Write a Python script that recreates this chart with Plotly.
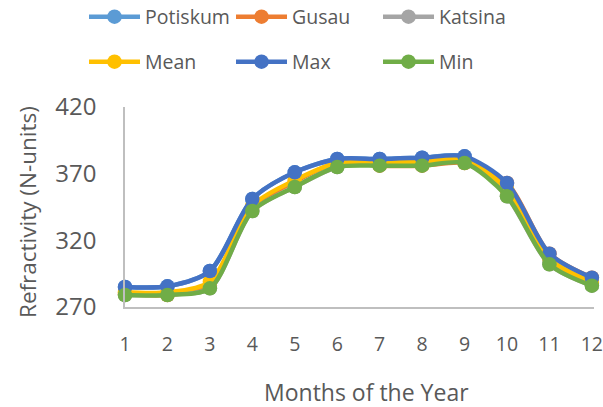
import plotly.graph_objects as go

months = [1, 2, 3, 4, 5, 6, 7, 8, 9, 10, 11, 12]
tick_labels = ["1", "2", "3", "4", "5", "6", "7", "8", "9", "10", "11", "12"]

potiskum = [285, 285.5, 297, 351, 371, 381, 381, 382, 383, 358, 305, 288]
gusau = [279.5, 279, 286, 345, 364, 378, 376, 376, 378, 363, 310, 292]
katsina = [279, 279.5, 284, 342, 360, 375, 378, 379, 381, 353, 302, 286]
mean = [281, 281, 289, 346, 365, 378, 378.5, 379, 380.5, 358, 306, 288.7]
maximum = [285, 285.5, 297, 351, 371, 381, 381, 382, 383, 363, 310, 292]
minimum = [279, 279, 284, 342, 360, 375, 376, 376, 378, 353, 302, 286]

series = [
    ("Potiskum", potiskum, "#5B9BD5", "legend"),
    ("Gusau", gusau, "#ED7D31", "legend"),
    ("Katsina", katsina, "#A5A5A5", "legend"),
    ("Mean", mean, "#FFC000", "legend2"),
    ("Max", maximum, "#4472C4", "legend2"),
    ("Min", minimum, "#70AD47", "legend2"),
]

FONT = "Open Sans"
TXT = "#595959"

fig = go.Figure()
for name, vals, col, leg in series:
    fig.add_trace(go.Scatter(
        x=months, y=vals, name=name, mode="lines+markers",
        line=dict(color=col, width=4.5, shape="spline", smoothing=0.8),
        marker=dict(color=col, size=14.5),
        cliponaxis=False, legend=leg,
    ))

legend_common = dict(
    orientation="h", x=-0.0874, xanchor="left", yanchor="middle",
    entrywidth=81, entrywidthmode="pixels", itemwidth=51,
    font=dict(family=FONT, size=19.5, color=TXT),
    bgcolor="rgba(0,0,0,0)",
)

fig.update_layout(
    width=603, height=407,
    margin=dict(l=125, r=9, t=107, b=100, autoexpand=False),
    paper_bgcolor="white", plot_bgcolor="white",
    font=dict(family=FONT, color=TXT),
    showlegend=True,
    legend=dict(y=(307 - 17) / 200, **legend_common),
    legend2=dict(y=(307 - 62) / 200, **legend_common),
    xaxis=dict(
        range=[1, 12.05], tickvals=months, ticktext=tick_labels,
        showline=True, linecolor="#BFBFBF", linewidth=1.5,
        showgrid=False, zeroline=False, ticks="",
        tickfont=dict(family=FONT, size=19.5, color=TXT),
        ticklabelstandoff=19, ticklabeloverflow="allow",
    ),
    yaxis=dict(
        range=[270, 420], tickvals=[270, 320, 370, 420],
        showline=True, linecolor="#BFBFBF", linewidth=1.5,
        showgrid=False, zeroline=False, ticks="",
        tickfont=dict(family=FONT, size=24, color=TXT),
        ticklabelstandoff=22, ticklabeloverflow="allow",
    ),
    annotations=[
        dict(text="Months of the Year", xref="paper", yref="paper",
             x=(366 - 125) / 469, y=(307 - 392) / 200,
             xanchor="center", yanchor="middle", showarrow=False,
             font=dict(family=FONT, size=23, color=TXT)),
        dict(text="Refractivity (N-units)", xref="paper", yref="paper",
             x=(27 - 125) / 469, y=(307 - 212) / 200, textangle=-90,
             xanchor="center", yanchor="middle", showarrow=False,
             font=dict(family=FONT, size=22.5, color=TXT)),
    ],
)

fig.write_html("out.html", config={"displayModeBar": False},
               post_script="document.body.style.margin='0';")
